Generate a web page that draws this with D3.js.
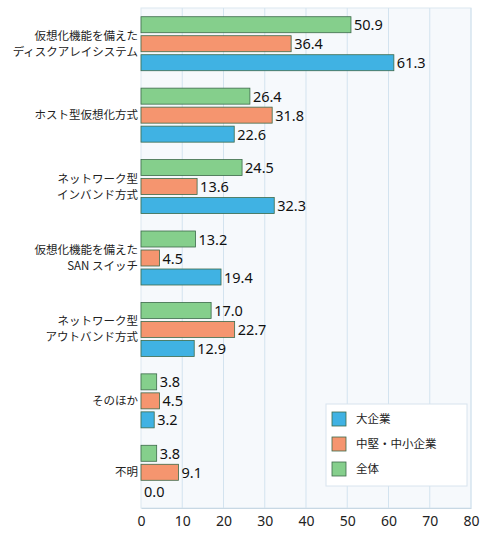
<!DOCTYPE html><html><head><meta charset="utf-8">
<script src="https://cdn.jsdelivr.net/npm/d3@7"></script>
<style>body{margin:0;background:#fff}text{font-family:"Noto Sans CJK JP","Noto Sans",sans-serif}</style></head><body>
<svg id="c" width="490" height="537"></svg>
<script>
const categories=[["仮想化機能を備えた","ディスクアレイシステム"],["ホスト型仮想化方式"],["ネットワーク型","インバンド方式"],["仮想化機能を備えた","SAN スイッチ"],["ネットワーク型","アウトバンド方式"],["そのほか"],["不明"]];
const seriesNames=["全体","中堅・中小企業","大企業"];
const zentai=[50.9,26.4,24.5,13.2,17.0,3.8,3.8];
const chusho=[36.4,31.8,13.6,4.5,22.7,4.5,9.1];
const daikigyo=[61.3,22.6,32.3,19.4,12.9,3.2,0.0];
const ticks=[0,10,20,30,40,50,60,70,80];
const colors=["#85cf8c","#f5956f","#40b2e3"];
const series=[zentai,chusho,daikigyo];
const svg=d3.select("#c");
const L=141,R=471,T=8,B=508;
const x=d3.scaleLinear().domain([0,80]).range([L,R]);
const y=d3.scaleBand().domain(d3.range(7)).range([T,B]);
svg.append("rect").attr("x",L).attr("y",T).attr("width",R-L).attr("height",B-T).attr("fill","#f6f9fc").attr("stroke","#dbe7f0");
svg.selectAll(".g").data(ticks.slice(1)).enter().append("line").attr("x1",d=>x(d)).attr("x2",d=>x(d)).attr("y1",T).attr("y2",B).attr("stroke","#d3e3ef");
const ax=svg.append("g").attr("transform",`translate(0,${B})`).call(d3.axisBottom(x).tickValues(ticks).tickSize(0).tickPadding(8));
ax.select(".domain").attr("stroke","#c8d8e4");
ax.selectAll("text").attr("font-size",14).attr("fill","#222").style("font-family","'Noto Sans',sans-serif");
series.forEach((s,j)=>{
  s.forEach((v,i)=>{
    const cy=y(i)+y.bandwidth()/2+(j-1)*19;
    if(v>0) svg.append("rect").attr("x",x(0)).attr("y",cy-8).attr("width",x(v)-x(0)).attr("height",16).attr("fill",colors[j]).attr("stroke","#3c6a4a").attr("stroke-width",0.8);
    svg.append("text").attr("x",x(v)+3).attr("y",cy+5.5).attr("font-size",14.5).attr("fill","#111").style("font-family","'Noto Sans',sans-serif").text(v.toFixed(1));
  });
});
categories.forEach((c,i)=>{
  const cy=y(i)+y.bandwidth()/2;
  const t=svg.append("text").attr("text-anchor","end").attr("font-size",11.5).attr("fill","#222");
  c.forEach((line,k)=>t.append("tspan").attr("x",L-3).attr("y",cy+4+(k-(c.length-1)/2)*16).text(line));
});
const lg=svg.append("g");
lg.append("rect").attr("x",326).attr("y",404).attr("width",141).attr("height",82).attr("fill","#fff").attr("stroke","#d8e4ee");
["大企業","中堅・中小企業","全体"].forEach((n,k)=>{
  const yy=412+k*25;
  lg.append("rect").attr("x",332).attr("y",yy).attr("width",14).attr("height",14).attr("fill",colors[2-k]).attr("stroke","#3c6a4a").attr("stroke-width",0.8);
  lg.append("text").attr("x",356).attr("y",yy+11).attr("font-size",11.5).attr("fill","#222").text(n);
});
</script></body></html>
